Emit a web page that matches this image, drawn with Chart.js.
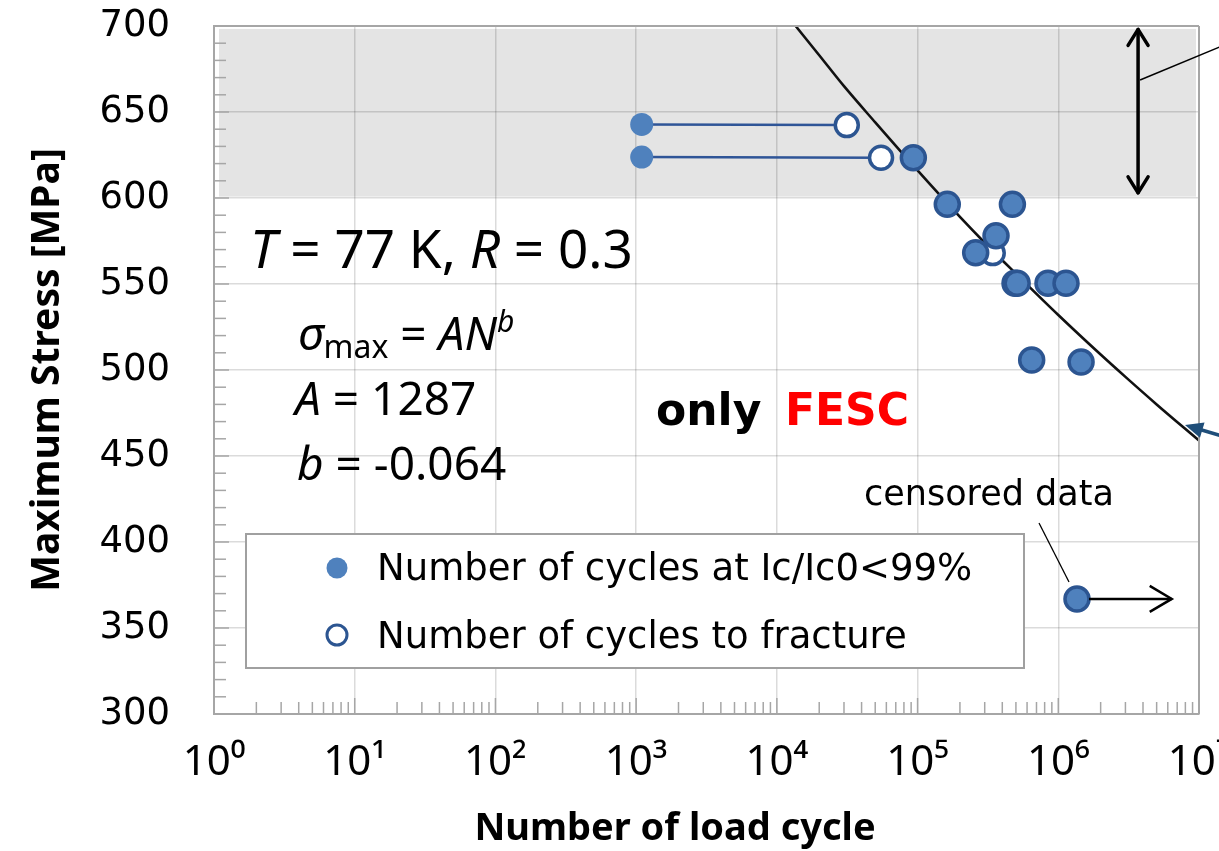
<!DOCTYPE html>
<html><head><meta charset="utf-8">
<script src="https://cdn.jsdelivr.net/npm/chart.js@4.4.1/dist/chart.umd.min.js"></script>
<style>html,body{margin:0;padding:0;background:#fff;}canvas{display:block;}</style>
</head><body>
<canvas id="c" width="1219" height="851"></canvas>
<script>
// ---- data ----
const xTickValues = [1, 10, 100, 1000, 10000, 100000, 1000000, 10000000];
const xTickLabels = ['10⁰', '10¹', '10²', '10³', '10⁴', '10⁵', '10⁶', '10⁷'];
const yMin = 300, yMax = 700, yStep = 50;

// Number of cycles at Ic/Ic0<99% (filled, outlined)
const degradeN = [93300, 162600, 472000, 361000, 258800, 492600, 510000, 845000, 1135000, 647000, 1452000];
const degradeS = [623.4, 596.3, 596.3, 578.1, 568.2, 550.4, 550.4, 550.4, 550.4, 505.8, 504.7];
// specimens whose Ic drop was detected early (filled, no outline) -> linked to fracture
const earlyN = [1095, 1095];
const earlyS = [642.8, 623.8];
// Number of cycles to fracture (open)
const fractureN = [31400, 55000, 342000];
const fractureS = [642.4, 623.4, 568.0];
// censored (run-out) data
const censoredN = [1358000];
const censoredS = [366.9];
const censoredArrowN = 6400000;
// fitted curve sigma_max = A N^b
const fitN = [13600, 20000, 30000, 50000, 100000, 200000, 300000, 500000, 1000000, 2000000, 3000000, 5000000, 10000000];
const fitS = [700, 683, 665, 644, 616, 589, 574, 556, 532, 509, 496, 480, 459];
// stress band marked by the double arrow
const bandN = 3690000;
const bandS = [603, 698];

const pts = (xs, ys) => xs.map((x, i) => ({x: x, y: ys[i]}));

const FILL = '#4f81bd', EDGE = '#2c5591';

const datasets = [
  {label: 'fit', data: pts(fitN, fitS), showLine: true, borderColor: '#111', borderWidth: 2.6,
   pointRadius: 0, fill: false, order: 10, cubicInterpolationMode: 'monotone'},
];
earlyN.forEach((n, i) => {
  datasets.push({label: 'link' + i, data: [{x: n, y: earlyS[i]}, {x: fractureN[i], y: fractureS[i]}],
    showLine: true, borderColor: '#2f5597', borderWidth: 2.5, pointRadius: 0, order: 8});
});
datasets.push({label: 'Number of cycles to fracture', data: pts(fractureN, fractureS),
  pointRadius: 11.5, pointBackgroundColor: '#fff', pointBorderColor: EDGE, pointBorderWidth: 3.5, order: 3});
datasets.push({label: 'early', data: pts(earlyN, earlyS),
  pointRadius: 11.5, pointBackgroundColor: FILL, pointBorderColor: FILL, pointBorderWidth: 0, order: 2});
datasets.push({label: 'Number of cycles at Ic/Ic0<99%', data: pts(degradeN, degradeS),
  pointRadius: 12, pointBackgroundColor: FILL, pointBorderColor: EDGE, pointBorderWidth: 3.5, order: 1});
datasets.push({label: 'censored', data: pts(censoredN, censoredS),
  pointRadius: 12, pointBackgroundColor: FILL, pointBorderColor: EDGE, pointBorderWidth: 3.5, order: 1});

function line(ctx, x1, y1, x2, y2) { ctx.beginPath(); ctx.moveTo(x1, y1); ctx.lineTo(x2, y2); ctx.stroke(); }
function chevron(ctx, tx, ty, ang, len, half) {
  const c = Math.cos(ang), s = Math.sin(ang);
  ctx.beginPath();
  ctx.moveTo(tx - len * c - half * s, ty - len * s + half * c);
  ctx.lineTo(tx, ty);
  ctx.lineTo(tx - len * c + half * s, ty - len * s - half * c);
  ctx.stroke();
}
function runs(ctx, x, y, list) {
  let cx = x;
  list.forEach(r => {
    ctx.font = r.f; ctx.fillStyle = r.c || '#000';
    ctx.fillText(r.t, cx, y + (r.dy || 0));
    cx += ctx.measureText(r.t).width + (r.gap || 0);
  });
}

const deco = {
  id: 'deco',
  beforeDraw(chart) {
    const {ctx, chartArea: a, scales: {x, y}} = chart;
    ctx.save();
    ctx.fillStyle = '#e4e4e4';
    const yt = y.getPixelForValue(698.3), yb = y.getPixelForValue(600.8);
    ctx.fillRect(a.left + 5, yt, a.right - a.left - 8, yb - yt);
    ctx.restore();
  },
  afterDraw(chart) {
    const {ctx, chartArea: a, scales: {x, y}} = chart;
    ctx.save();
    // frame top/right
    ctx.strokeStyle = '#a6a6a6'; ctx.lineWidth = 2;
    line(ctx, a.left, a.top, a.right, a.top);
    line(ctx, a.right, a.top, a.right, a.bottom);
    // minor ticks y
    ctx.lineWidth = 1.5;
    for (let v = yMin; v <= yMax; v += 10) {
      const p = y.getPixelForValue(v);
      const L = (v % yStep === 0) ? 15 : 12;
      line(ctx, a.left, p, a.left + L, p);
    }
    // minor ticks x
    for (let d = 0; d < 7; d++) {
      for (let m = 2; m <= 10; m++) {
        const p = x.getPixelForValue(m * Math.pow(10, d));
        const L = (m === 10) ? 16 : 12;
        line(ctx, p, a.bottom, p, a.bottom - L);
      }
    }
    // x axis title
    ctx.fillStyle = '#000';
    ctx.font = 'bold 38px "Noto Sans"';
    ctx.textAlign = 'center'; ctx.textBaseline = 'alphabetic';
    ctx.fillText('Number of load cycle', 675, 840);
    ctx.textAlign = 'left';

    // legend
    ctx.strokeStyle = '#a0a0a0'; ctx.lineWidth = 2;
    ctx.fillStyle = '#fff';
    ctx.fillRect(246, 534, 778, 134);
    ctx.strokeRect(246, 534, 778, 134);
    ctx.beginPath(); ctx.arc(337, 568, 10.5, 0, 2 * Math.PI); ctx.fillStyle = FILL; ctx.fill();
    ctx.beginPath(); ctx.arc(337, 635, 10, 0, 2 * Math.PI); ctx.fillStyle = '#fff'; ctx.fill();
    ctx.strokeStyle = EDGE; ctx.lineWidth = 3; ctx.stroke();
    ctx.fillStyle = '#000'; ctx.font = '37px "DejaVu Sans"';
    ctx.fillText('Number of cycles at Ic/Ic0<99%', 377, 580);
    ctx.fillText('Number of cycles to fracture', 377, 648);

    // conditions text
    const it52 = 'italic 53px "Noto Sans"', n52 = '53px "Noto Sans"';
    runs(ctx, 250, 268, [{t: 'T', f: it52}, {t: ' = 77 K, ', f: n52}, {t: 'R', f: it52}, {t: ' = 0.3', f: n52}]);
    const it46 = 'italic 46px "Noto Sans"', n46 = '46px "Noto Sans"';
    runs(ctx, 298, 350, [{t: 'σ', f: it46}, {t: 'max', f: '32px "Noto Sans"', dy: 8}, {t: ' = ', f: n46},
      {t: 'AN', f: it46}, {t: 'b', f: 'italic 30px "Noto Sans"', dy: -18}]);
    runs(ctx, 295, 415, [{t: 'A', f: it46}, {t: ' = 1287', f: n46}]);
    runs(ctx, 297, 480, [{t: 'b', f: it46}, {t: ' = -0.064', f: n46}]);

    // only FESC
    ctx.font = 'bold 44px "DejaVu Sans"'; ctx.fillStyle = '#000';
    ctx.fillText('only', 656, 425);
    ctx.fillStyle = '#ff0000';
    ctx.fillText('FESC', 785, 425);

    // censored data label + leader
    ctx.fillStyle = '#000'; ctx.font = '35px "DejaVu Sans"';
    ctx.fillText('censored data', 864, 505);
    ctx.strokeStyle = '#000'; ctx.lineWidth = 1.3;
    line(ctx, 1039, 523, 1069, 582);

    // censored arrow
    const cx0 = x.getPixelForValue(censoredN[0]), cy0 = y.getPixelForValue(censoredS[0]);
    const cx1 = x.getPixelForValue(censoredArrowN);
    ctx.lineWidth = 2.5; ctx.strokeStyle = '#000';
    line(ctx, cx0 + 12, cy0, cx1, cy0);
    chevron(ctx, cx1, cy0, 0, 22, 13);

    // double arrow stress band
    const bx = x.getPixelForValue(bandN);
    const by0 = y.getPixelForValue(bandS[0]), by1 = y.getPixelForValue(bandS[1]);
    ctx.lineWidth = 3.5; ctx.lineCap = 'round'; ctx.lineJoin = 'round';
    line(ctx, bx, by0, bx, by1);
    chevron(ctx, bx, by1, -Math.PI / 2, 16, 10);
    chevron(ctx, bx, by0, Math.PI / 2, 16, 10);
    ctx.lineWidth = 1.5; ctx.lineCap = 'butt';
    const ly = y.getPixelForValue(668.6);
    line(ctx, bx + 2, ly, 1222, ly - 34);

    // blue arrow pointing at fit curve
    ctx.strokeStyle = '#1f4e79'; ctx.fillStyle = '#1f4e79'; ctx.lineWidth = 3.5;
    const tx = 1185, ty = 425;
    line(ctx, 1222, 436, tx + 10, ty + 3);
    const ang = Math.atan2(ty - 436, tx - 1222);
    const c = Math.cos(ang), s = Math.sin(ang);
    ctx.beginPath();
    ctx.moveTo(tx, ty);
    ctx.lineTo(tx - 18 * c - 8 * s, ty - 18 * s + 8 * c);
    ctx.lineTo(tx - 18 * c + 8 * s, ty - 18 * s - 8 * c);
    ctx.closePath(); ctx.fill();
    ctx.restore();
  }
};

new Chart(document.getElementById('c'), {
  type: 'scatter',
  data: {datasets: datasets},
  options: {
    responsive: false, animation: false, devicePixelRatio: 1,
    layout: {padding: {top: 26, right: 20, left: 0, bottom: 0}},
    plugins: {legend: {display: false}, tooltip: {enabled: false}},
    scales: {
      x: {
        type: 'logarithmic', min: 1, max: 10000000,
        afterBuildTicks: s => { s.ticks = xTickValues.map(v => ({value: v, major: true})); },
        afterFit: s => { s.height = 137; s.paddingLeft = 0; s.paddingRight = 0; },
        ticks: {autoSkip: false, maxRotation: 0, padding: 24, color: '#000',
          font: {family: 'Noto Sans', size: 42},
          callback: (v) => { const i = xTickValues.indexOf(v); return i >= 0 ? xTickLabels[i] : ''; }},
        grid: {color: 'rgba(0,0,0,0.14)', lineWidth: 1.5, drawTicks: false},
        border: {color: '#a6a6a6', width: 2}
      },
      y: {
        type: 'linear', min: yMin, max: yMax,
        afterFit: s => { s.width = 214; s.paddingTop = 0; s.paddingBottom = 0; },
        ticks: {stepSize: yStep, padding: 44, color: '#000', font: {family: 'DejaVu Sans', size: 37}},
        grid: {color: 'rgba(0,0,0,0.14)', lineWidth: 1.5, drawTicks: false},
        border: {color: '#a6a6a6', width: 2},
        title: {display: true, text: 'Maximum Stress [MPa]', color: '#000',
          font: {family: 'Noto Sans', size: 39, weight: 'bold'}, padding: {top: 24, bottom: 0}}
      }
    }
  },
  plugins: [deco]
});
</script>
</body></html>
